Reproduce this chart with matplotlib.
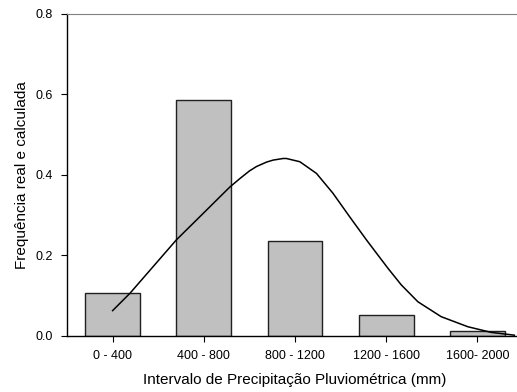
import matplotlib
matplotlib.use("Agg")
import matplotlib.pyplot as plt
import numpy as np

plt.rcParams["font.family"] = ["Liberation Sans", "DejaVu Sans"]

categories = ["0 - 400", "400 - 800", "800 - 1200", "1200 - 1600", "1600- 2000"]
freq_real = [0.106, 0.586, 0.236, 0.052, 0.013]

# curva calculada (x em mm, centro da classe 0-400 = 200)
curve_mm = [200, 276, 480, 582, 714, 758, 800, 831, 875, 904, 948, 962,
            1021, 1094, 1166, 1240, 1313, 1349, 1408, 1466, 1539, 1641,
            1758, 1860, 1962]
curve_freq = [0.063, 0.106, 0.239, 0.296, 0.370, 0.391, 0.410, 0.421, 0.432,
              0.437, 0.441, 0.441, 0.433, 0.404, 0.355, 0.296, 0.239, 0.212,
              0.168, 0.127, 0.085, 0.048, 0.023, 0.009, 0.002]


def main():
    fig = plt.figure(figsize=(5.17, 3.92), dpi=100)
    ax = fig.add_axes([0.1296, 0.1429, 0.8820, 0.8214])

    x = np.arange(len(categories))
    ax.bar(x, freq_real, width=0.6, color="#c0c0c0", edgecolor="#202020",
           linewidth=1.0, zorder=2)

    cx = (np.array(curve_mm) - 200) / 400.0
    ax.plot(cx, curve_freq, color="black", linewidth=1.1, zorder=3,
            solid_joinstyle="round")

    ax.set_xlim(-0.5, 4.5)
    ax.set_ylim(0, 0.8)
    ax.set_xticks(x)
    ax.set_xticklabels(categories)
    ax.set_yticks([0.0, 0.2, 0.4, 0.6, 0.8])
    ax.set_yticklabels(["0.0", "0.2", "0.4", "0.6", "0.8"])
    ax.tick_params(direction="out", length=4, width=0.8, labelsize=9, pad=6)

    ax.spines["top"].set_color("#808080")
    ax.spines["right"].set_visible(False)
    ax.spines["left"].set_linewidth(1.0)
    ax.spines["bottom"].set_linewidth(1.0)

    ax.set_xlabel("Intervalo de Precipitação Pluviométrica (mm)", fontsize=11, labelpad=8)
    ax.set_ylabel("Frequência real e calculada", fontsize=11, labelpad=5)

    fig.savefig("out.png", dpi=100)


if __name__ == '__main__':
    main()
